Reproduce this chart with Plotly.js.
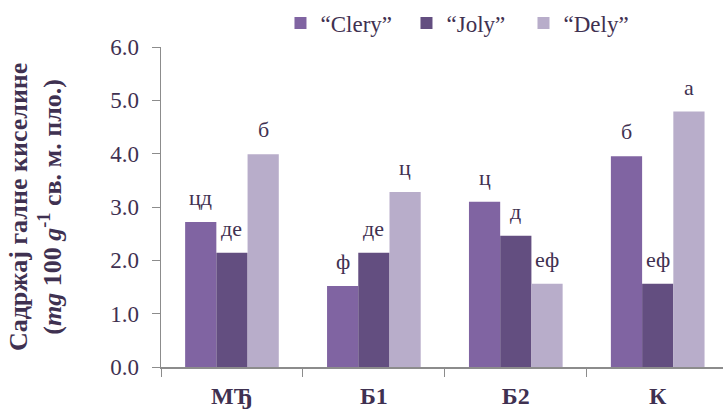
<!DOCTYPE html>
<html>
<head>
<meta charset="utf-8">
<script src="https://cdn.plot.ly/plotly-3.0.1.min.js"></script>
<style>html,body{margin:0;padding:0;background:#fff;}</style>
</head>
<body>
<div id="chart" style="width:723px;height:410px;"></div>
<script>
const categories = ["МЂ", "Б1", "Б2", "К"];
const seriesNames = ["“Clery”", "“Joly”", "“Dely”"];
const clery = [2.72, 1.52, 3.10, 3.95];
const joly = [2.14, 2.14, 2.46, 1.56];
const dely = [3.99, 3.28, 1.56, 4.79];
const cleryLetters = ["цд", "ф", "ц", "б"];
const jolyLetters = ["де", "де", "д", "еф"];
const delyLetters = ["б", "ц", "еф", "а"];
const yTicks = [0, 1, 2, 3, 4, 5, 6];

const colors = ["#8064a2", "#634e80", "#b8adca"];
const textColor = "#3f3151";
const serif = "Liberation Serif";
const bargap = 0.34;

const seriesVals = [clery, joly, dely];
const seriesLetters = [cleryLetters, jolyLetters, delyLetters];
const legendIds = ["legend", "legend2", "legend3"];
const legendX = [0.2126, 0.4368, 0.645];

const traces = seriesVals.map((vals, j) => ({
  type: "bar",
  name: seriesNames[j],
  x: categories,
  y: vals,
  legend: legendIds[j],
  marker: {color: colors[j], line: {width: 0}},
  hoverinfo: "skip"
}));

const w = (1 - bargap) / 3;
const annotations = [];
seriesVals.forEach((vals, j) => {
  vals.forEach((v, i) => {
    annotations.push({
      x: i + (j - 1) * w, y: v, xref: "x", yref: "y",
      text: seriesLetters[j][i], showarrow: false,
      yanchor: "bottom", yshift: 10,
      font: {family: serif, size: 22, color: textColor}
    });
  });
});
annotations.push({
  xref: "paper", yref: "paper",
  x: -0.224, y: 0.5, xanchor: "center", yanchor: "middle",
  textangle: -90, showarrow: false,
  text: "<b>Садржај галне киселине</b><br><b>(<i>mg</i> 100 <i>g</i><sup>-1</sup> св. м. пло.)</b>",
  font: {family: serif, size: 26, color: textColor}
});

const layout = {
  width: 723, height: 410,
  margin: {l: 161, r: 0, t: 47, b: 43, autoexpand: false},
  paper_bgcolor: "#fff", plot_bgcolor: "#fff",
  barmode: "group", bargap: bargap, bargroupgap: 0,
  showlegend: true,
  xaxis: {
    type: "category", range: [-0.5, 3.46],
    showline: true, linecolor: "#8c8c8c", linewidth: 1.5,
    ticks: "outside", ticklen: 8, tickcolor: "#8c8c8c", tickson: "boundaries",
    tickfont: {family: serif, size: 24, color: textColor, weight: "bold"},
    ticklabelstandoff: 7,
    showgrid: false, zeroline: false
  },
  yaxis: {
    range: [0, 6], tickvals: yTicks, tickformat: ".1f",
    showline: true, linecolor: "#8c8c8c", linewidth: 1.5,
    ticks: "outside", ticklen: 8, tickcolor: "#8c8c8c",
    tickfont: {family: serif, size: 23, color: textColor},
    ticklabelstandoff: 8,
    showgrid: false, zeroline: false
  },
  annotations: annotations
};
legendIds.forEach((id, j) => {
  layout[id] = {
    orientation: "h", x: legendX[j], y: 1.075, xanchor: "left", yanchor: "middle",
    font: {family: serif, size: 23, color: textColor},
    itemwidth: 30, bgcolor: "rgba(0,0,0,0)"
  };
});

Plotly.newPlot("chart", traces, layout, {staticPlot: true, displayModeBar: false});
</script>
</body>
</html>
